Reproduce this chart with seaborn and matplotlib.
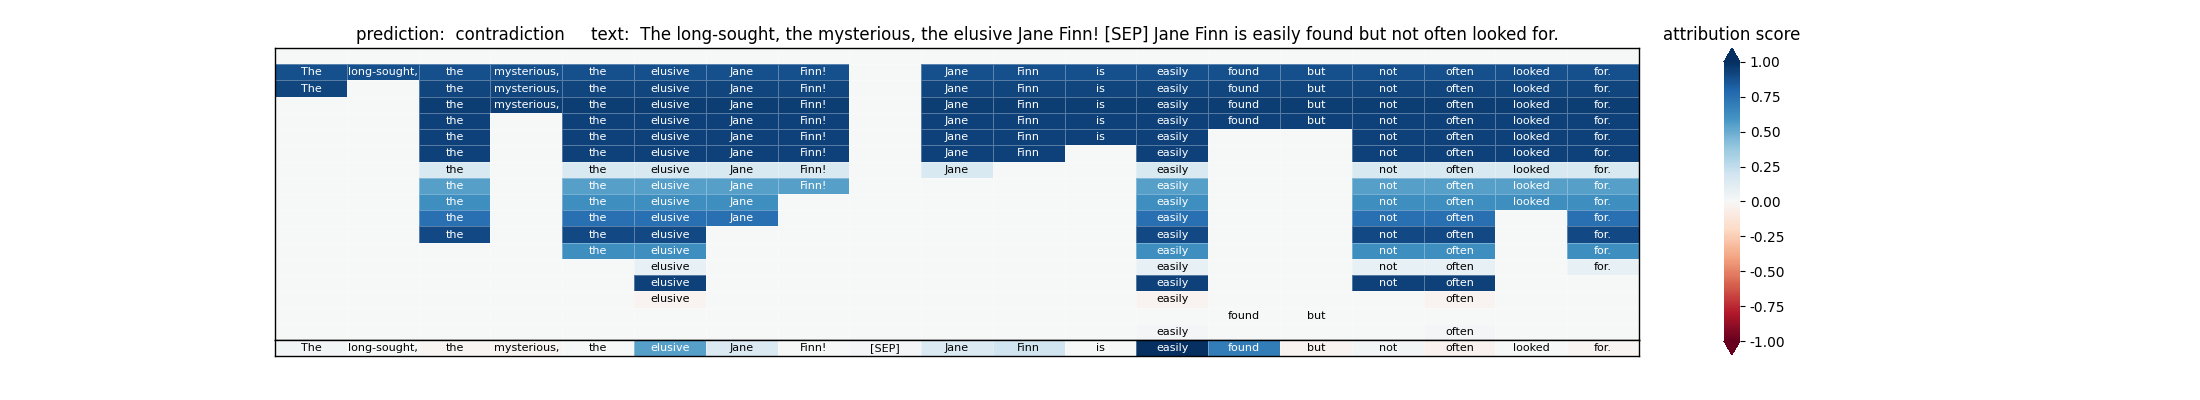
import matplotlib
matplotlib.use("Agg")
import matplotlib.pyplot as plt
import numpy as np
import seaborn as sns

tokens = ["The", "long-sought,", "the", "mysterious,", "the", "elusive", "Jane", "Finn!",
          "[SEP]", "Jane", "Finn", "is", "easily", "found", "but", "not", "often",
          "looked", "for."]

# which tokens appear in each row of the upper block (row 0 stays empty)
row_cols = [
    [],
    [0, 1, 2, 3, 4, 5, 6, 7, 9, 10, 11, 12, 13, 14, 15, 16, 17, 18],
    [0, 2, 3, 4, 5, 6, 7, 9, 10, 11, 12, 13, 14, 15, 16, 17, 18],
    [2, 3, 4, 5, 6, 7, 9, 10, 11, 12, 13, 14, 15, 16, 17, 18],
    [2, 4, 5, 6, 7, 9, 10, 11, 12, 13, 14, 15, 16, 17, 18],
    [2, 4, 5, 6, 7, 9, 10, 11, 12, 15, 16, 17, 18],
    [2, 4, 5, 6, 7, 9, 10, 12, 15, 16, 17, 18],
    [2, 4, 5, 6, 7, 9, 12, 15, 16, 17, 18],
    [2, 4, 5, 6, 7, 12, 15, 16, 17, 18],
    [2, 4, 5, 6, 12, 15, 16, 17, 18],
    [2, 4, 5, 6, 12, 15, 16, 18],
    [2, 4, 5, 12, 15, 16, 18],
    [4, 5, 12, 15, 16, 18],
    [5, 12, 15, 16, 18],
    [5, 12, 15, 16],
    [5, 12, 16],
    [13, 14],
    [12, 16],
]
row_scores = [0.0, 0.88, 0.92, 0.95, 0.93, 0.93, 0.93, 0.16, 0.55, 0.62, 0.75,
              0.9, 0.62, 0.08, 0.93, -0.03, 0.0, 0.02]

# attribution score of each token (bottom row)
token_scores = [0.03, 0.0, -0.02, -0.02, 0.0, 0.55, 0.15, 0.0, 0.02, 0.15, 0.2,
                0.0, 1.0, 0.7, -0.03, 0.03, -0.04, 0.0, -0.02]

prediction = "contradiction"
text = "The long-sought, the mysterious, the elusive Jane Finn! [SEP] Jane Finn is easily found but not often looked for."

n_rows, n_cols = len(row_cols), len(tokens)
top_vals = np.zeros((n_rows, n_cols))
top_labels = np.full((n_rows, n_cols), "", dtype=object)
for i, cols in enumerate(row_cols):
    for j in cols:
        top_vals[i, j] = row_scores[i]
        top_labels[i, j] = tokens[j]

bottom_vals = np.array([token_scores])
bottom_labels = np.array([tokens], dtype=object)

fig = plt.figure(figsize=(22, 4), dpi=100)
ax_top = fig.add_axes([0.125, 0.15, 0.62, 0.73])
ax_bot = fig.add_axes([0.125, 0.11, 0.62, 0.04])
cax = fig.add_axes([0.7836, 0.1125, 0.00727, 0.7675])

hm_kws = dict(cmap="RdBu", vmin=-1, vmax=1, fmt="", xticklabels=False,
              yticklabels=False, linewidths=0.5, linecolor=(1, 1, 1, 0.3),
              annot_kws={"size": 8})

sns.heatmap(top_vals, annot=top_labels, ax=ax_top, cbar=True, cbar_ax=cax,
            cbar_kws={"extend": "both"}, **hm_kws)
sns.heatmap(bottom_vals, annot=bottom_labels, ax=ax_bot, cbar=False, **hm_kws)

for ax in (ax_top, ax_bot):
    for s in ax.spines.values():
        s.set_visible(True)
        s.set_linewidth(1)
        s.set_color("black")
    for t in ax.texts:
        if t.get_color() != "w":
            t.set_color("black")

ax_top.set_title(f"prediction:  {prediction}     text:  {text}", fontsize=12)

cax.set_yticks(np.arange(-1, 1.01, 0.25))
cax.yaxis.set_major_formatter(matplotlib.ticker.FormatStrFormatter("%.2f"))
cax.tick_params(labelsize=10)
cax.set_title("attribution score", fontsize=12)

fig.savefig("out.png", dpi=100)
